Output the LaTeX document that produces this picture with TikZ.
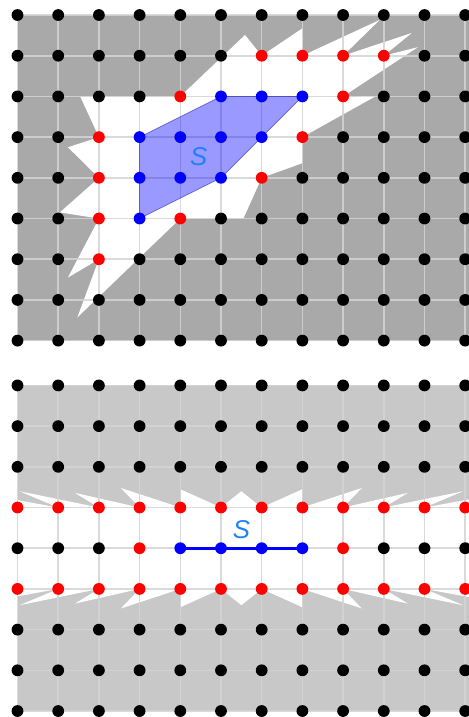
\documentclass[tikz,border=0pt]{standalone}
\usepackage{fontspec}
\newfontfamily\labelfont{Liberation Sans}
\definecolor{darkfill}{RGB}{169,169,169}
\definecolor{lightfill}{RGB}{200,200,200}
\definecolor{gridgray}{RGB}{212,212,212}
\definecolor{sblue}{RGB}{30,128,255}
\begin{document}
\begin{tikzpicture}[
    dot/.style={circle, inner sep=0pt, minimum size=0.29cm},
    dotk/.style={dot, fill=black},
    dotr/.style={dot, fill=red},
    dotb/.style={dot, fill=blue},
    gridline/.style={draw=gridgray, draw opacity=0.85, line width=1.1pt},
    hull/.style={fill=blue, fill opacity=0.4, draw=blue!60!black, draw opacity=0.5, line width=0.5pt},
    segment/.style={draw=blue, line width=2pt},
    slabel/.style={text=sblue, font=\labelfont\itshape\fontsize{18}{20}\selectfont}
  ]
  \useasboundingbox (0,0) rectangle (11.523,-17.617);
  \clip (0,0) rectangle (11.523,-17.617);

  % upper lattice
  \begin{scope}[shift={(0.43,-0.369)}]
    \fill[darkfill] (0,0) rectangle (12,-8);
    \fill[white] (4,-2) -- (5.59,-0.49) -- (6,-1) -- (7.01,-0.32) -- (7,-1) -- (8.9,-0.12) -- (8,-1)
      -- (9.69,-0.44) -- (9,-1) -- (9.84,-0.79) -- (8,-2) -- (8.81,-1.99) -- (7,-3) -- (7,-3.64)
      -- (6,-4) -- (5.55,-5) -- (4,-5) -- (1.47,-7.43) -- (2,-6) -- (1.24,-6.45) -- (2,-5)
      -- (1.04,-4.85) -- (2,-4) -- (1.24,-3.25) -- (2,-3) -- (1.54,-2) -- cycle;
    \foreach \r in {0,...,8}
      \draw[gridline] (0,-\r) -- (12,-\r);
    \foreach \u in {0,...,11}
      \draw[gridline] (\u,0) -- (\u,-8);
    \draw[hull] (3,-3) -- (5,-2) -- (7,-2) -- (5,-4) -- (3,-5) -- cycle;
    \node[slabel] (s-top) at (4.45,-3.47) {S};
    \foreach \r/\row in {0/{k,k,k,k,k,k,k,k,k,k,k,k}, 1/{k,k,k,k,k,k,r,r,r,r,k,k},
        2/{k,k,k,k,r,b,b,b,r,k,k,k}, 3/{k,k,r,b,b,b,b,r,k,k,k,k},
        4/{k,k,r,b,b,b,r,k,k,k,k,k}, 5/{k,k,r,b,r,k,k,k,k,k,k,k},
        6/{k,k,r,k,k,k,k,k,k,k,k,k}, 7/{k,k,k,k,k,k,k,k,k,k,k,k},
        8/{k,k,k,k,k,k,k,k,k,k,k,k}}
      \foreach \c [count=\u from 0] in \row
        \node[dot\c] (t-\u-\r) at (\u,-\r) {};
  \end{scope}

  % lower lattice
  \begin{scope}[shift={(0.43,-9.47)}]
    \fill[lightfill] (0,0) rectangle (12,-8);
    \fill[white] (0,-3) -- (-1.2,-2.6) -- (1,-3) -- (0.05,-2.6) -- (2,-3) -- (1.41,-2.64)
      -- (3,-3) -- (2.54,-2.52) -- (4,-3) -- (4,-2.55) -- (5,-3) -- (5.5,-2.6) -- (6,-3)
      -- (7,-2.55) -- (7,-3) -- (8.46,-2.52) -- (8,-3) -- (9.59,-2.64) -- (9,-3)
      -- (10.95,-2.6) -- (10,-3) -- (12.2,-2.6) -- (11,-3) -- (13.4,-2.6)
      -- (13.4,-5.4) -- (11,-5) -- (12.2,-5.4) -- (10,-5) -- (10.95,-5.4) -- (9,-5)
      -- (9.59,-5.36) -- (8,-5) -- (8.46,-5.48) -- (7,-5) -- (7,-5.45) -- (6,-5)
      -- (5.5,-5.4) -- (5,-5) -- (4,-5.45) -- (4,-5) -- (2.54,-5.48) -- (3,-5)
      -- (1.41,-5.36) -- (2,-5) -- (0.05,-5.4) -- (1,-5) -- (-1.2,-5.4) -- (0,-5) -- cycle;
    \foreach \r in {0,...,8}
      \draw[gridline] (0,-\r) -- (12,-\r);
    \foreach \u in {0,...,11}
      \draw[gridline] (\u,0) -- (\u,-8);
    \node[slabel] (s-bottom) at (5.5,-3.55) {S};
    \foreach \r/\row in {0/{k,k,k,k,k,k,k,k,k,k,k,k}, 1/{k,k,k,k,k,k,k,k,k,k,k,k},
        2/{k,k,k,k,k,k,k,k,k,k,k,k}, 3/{r,r,r,r,r,r,r,r,r,r,r,r},
        4/{k,k,k,r,b,b,b,b,r,k,k,k}, 5/{r,r,r,r,r,r,r,r,r,r,r,r},
        6/{k,k,k,k,k,k,k,k,k,k,k,k}, 7/{k,k,k,k,k,k,k,k,k,k,k,k},
        8/{k,k,k,k,k,k,k,k,k,k,k,k}}
      \foreach \c [count=\u from 0] in \row
        \node[dot\c] (b-\u-\r) at (\u,-\r) {};
    \draw[segment] (b-4-4.center) -- (b-7-4.center);
  \end{scope}
\end{tikzpicture}
\end{document}
